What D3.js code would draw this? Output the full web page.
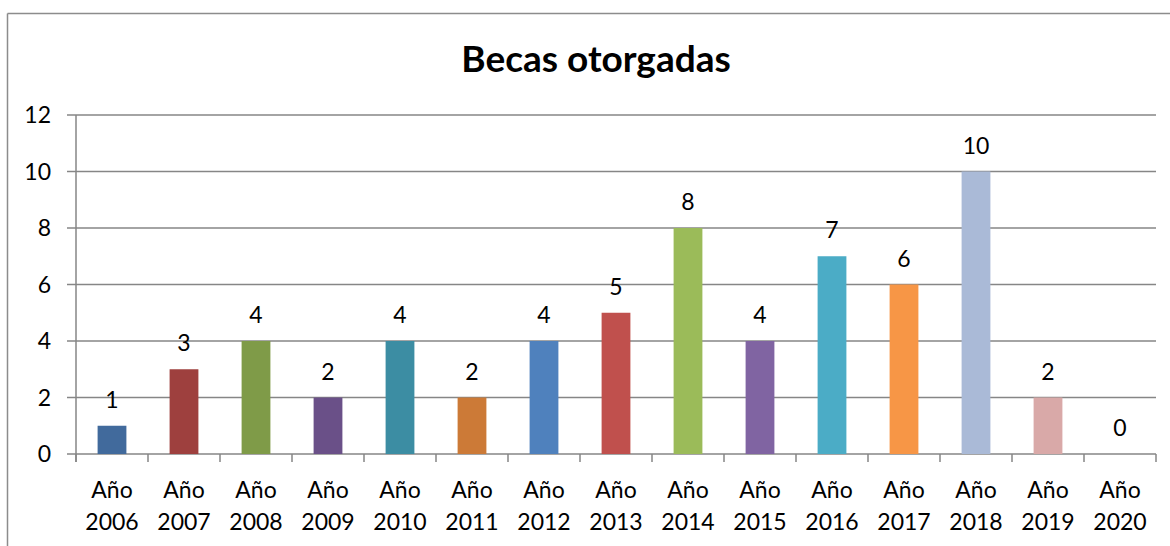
<!DOCTYPE html>
<html>
<head>
<meta charset="utf-8">
<script src="https://cdn.jsdelivr.net/npm/d3@7"></script>
<style>
  body{margin:0;background:#fff;}
  svg text{font-family:Lato,"Open Sans",sans-serif;fill:#000;}
</style>
</head>
<body>
<svg id="display" width="1170" height="546"></svg>
<script>
// data
const years=["2006","2007","2008","2009","2010","2011","2012","2013","2014","2015","2016","2017","2018","2019","2020"];
const becas=[1,3,4,2,4,2,4,5,8,4,7,6,10,2,0];
const bar_colors=["#416A9C","#9E403E","#7F9B48","#6A5088","#3C8DA3","#CC7A37",
                  "#4F81BD","#C0504D","#9BBB59","#8064A2","#4BACC6","#F79646",
                  "#AABAD7","#D9A9A8","#B3C78E"];
const y_ticks=[0,2,4,6,8,10,12];
const chart_title="Becas otorgadas";

const display=d3.select("#display");

// outer chart border (only left and top visible)
display.append("line")
    .attr("x1",7.5).attr("y1",13.5).attr("x2",1170).attr("y2",13.5)
    .attr("stroke","#8c8c8c").attr("stroke-width",1.5);
display.append("line")
    .attr("x1",7.5).attr("y1",13.5).attr("x2",7.5).attr("y2",546)
    .attr("stroke","#8c8c8c").attr("stroke-width",1.5);

// plot area
const plot_left=76, plot_right=1156, plot_top=115, plot_bottom=454;
const x=d3.scaleBand().domain(years).range([plot_left,plot_right]).paddingInner(0.6).paddingOuter(0.3);
const band=d3.scaleBand().domain(years).range([plot_left,plot_right]);
const y=d3.scaleLinear().domain([0,12]).range([plot_bottom,plot_top]);

// title
display.append("text")
    .attr("x",596)
    .attr("y",72)
    .style("font-size","37px")
    .style("font-weight","bold")
    .style("text-anchor","middle")
    .text(chart_title);

// gridlines + y axis labels
for (const t of y_ticks){
    display.append("line")
        .attr("x1",plot_left-9).attr("x2",plot_right)
        .attr("y1",y(t)).attr("y2",y(t))
        .attr("stroke","#868686").attr("stroke-width",1.5);
    display.append("text")
        .attr("x",51)
        .attr("y",y(t))
        .attr("dy","0.35em")
        .style("font-size","23px")
        .style("text-anchor","end")
        .text(t);
}

// y axis line
display.append("line")
    .attr("x1",plot_left).attr("x2",plot_left)
    .attr("y1",plot_top).attr("y2",plot_bottom+8)
    .attr("stroke","#868686").attr("stroke-width",1.5);

// x ticks
for (let i=0;i<=years.length;i++){
    const tx=plot_left+i*band.step();
    display.append("line")
        .attr("x1",tx).attr("x2",tx)
        .attr("y1",plot_bottom).attr("y2",plot_bottom+8)
        .attr("stroke","#868686").attr("stroke-width",1.5);
}

// bars
years.forEach(function(year,i){
    display.append("rect")
        .attr("x",x(year))
        .attr("y",y(becas[i]))
        .attr("width",x.bandwidth())
        .attr("height",plot_bottom-y(becas[i]))
        .attr("fill",bar_colors[i]);

    // value label
    display.append("text")
        .attr("x",band(year)+band.bandwidth()/2)
        .attr("y",y(becas[i])-18)
        .style("font-size","23px")
        .style("text-anchor","middle")
        .text(becas[i]);

    // category label (two lines)
    const cx=band(year)+band.bandwidth()/2;
    display.append("text")
        .attr("x",cx).attr("y",498)
        .style("font-size","23px")
        .style("text-anchor","middle")
        .text("Año");
    display.append("text")
        .attr("x",cx).attr("y",530)
        .style("font-size","23px")
        .style("text-anchor","middle")
        .text(year);
});
</script>
</body>
</html>
